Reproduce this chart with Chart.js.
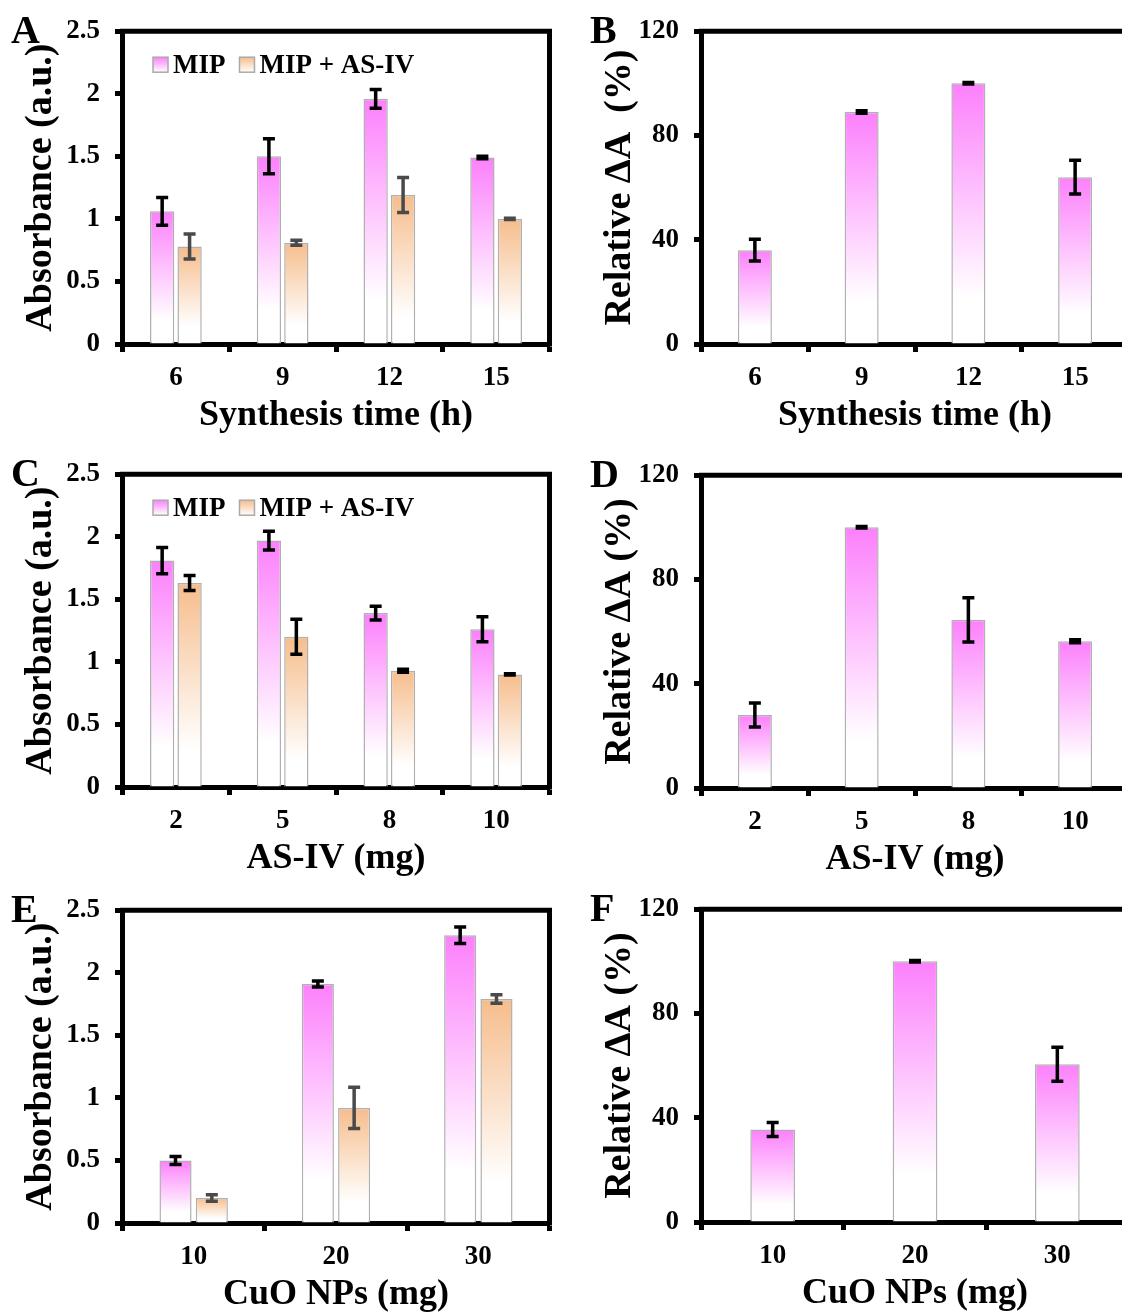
<!DOCTYPE html>
<html>
<head>
<meta charset="utf-8">
<script src="https://cdn.jsdelivr.net/npm/chart.js@4.4.0/dist/chart.umd.min.js"></script>
<style>
  html, body { margin: 0; padding: 0; background: #fff; overflow: hidden; width: 1122px; height: 1313px; }
  canvas { position: absolute; }
</style>
</head>
<body>
<canvas id="chartA" width="560" height="440" style="left:0px;top:0px"></canvas>
<canvas id="chartB" width="560" height="440" style="left:579px;top:0px"></canvas>
<canvas id="chartC" width="560" height="440" style="left:0px;top:443px"></canvas>
<canvas id="chartD" width="560" height="440" style="left:579px;top:444px"></canvas>
<canvas id="chartE" width="560" height="440" style="left:0px;top:879px"></canvas>
<canvas id="chartF" width="560" height="440" style="left:579px;top:878px"></canvas>
<script>
// synthesis time (A, B)
var timeLabels = ['6', '9', '12', '15'];
var timeMip = [1.06, 1.50, 1.96, 1.49];
var timeMipErr = [0.11, 0.14, 0.075, 0.01];
var timeMipAs = [0.78, 0.81, 1.19, 1.00];
var timeMipAsErr = [0.10, 0.02, 0.14, 0.005];
var timeRel = [36, 89, 100, 64];
var timeRelErr = [4.2, 0.5, 0.3, 6.5];

// AS-IV amount (C, D)
var asivLabels = ['2', '5', '8', '10'];
var asivMip = [1.81, 1.97, 1.39, 1.26];
var asivMipErr = [0.105, 0.075, 0.055, 0.10];
var asivMipAs = [1.63, 1.20, 0.93, 0.90];
var asivMipAsErr = [0.06, 0.14, 0.012, 0.005];
var asivRel = [28, 100, 64.5, 56.3];
var asivRelErr = [4.6, 0.3, 8.5, 0.6];

// CuO NPs amount (E, F)
var cuoLabels = ['10', '20', '30'];
var cuoMip = [0.50, 1.91, 2.30];
var cuoMipErr = [0.032, 0.024, 0.066];
var cuoMipAs = [0.20, 0.92, 1.79];
var cuoMipAsErr = [0.026, 0.164, 0.034];
var cuoRel = [35.5, 100, 60.5];
var cuoRelErr = [2.7, 0.3, 6.5];

var absTicks = [0, 0.5, 1, 1.5, 2, 2.5];
var relTicks = [0, 40, 80, 120];

var serif = '"Liberation Serif", "Times New Roman", serif';
var pink = '#fc80fc';
var orange = '#f6bd8c';

function barGradient(color) {
    return function(c) {
        var chart = c.chart;
        if (!chart.chartArea || c.raw == null) return color;
        var ys = chart.scales.y;
        var top = ys.getPixelForValue(c.raw), bot = ys.getPixelForValue(0);
        var g = chart.ctx.createLinearGradient(0, top, 0, bot);
        g.addColorStop(0, color);
        g.addColorStop(0.82, '#ffffff');
        g.addColorStop(1, '#ffffff');
        return g;
    };
}

// error bars, frame, panel letter and inner legend
var panelDeco = {
    id: 'panelDeco',
    afterDatasetsDraw: function(chart) {
        var ctx = chart.ctx, ys = chart.scales.y;
        chart.data.datasets.forEach(function(d, i) {
            var meta = chart.getDatasetMeta(i);
            ctx.save();
            ctx.strokeStyle = d.errColor;
            ctx.lineWidth = 3.5;
            meta.data.forEach(function(bar, j) {
                var hi = ys.getPixelForValue(d.data[j] + d.err[j]);
                var lo = ys.getPixelForValue(d.data[j] - d.err[j]);
                ctx.beginPath();
                ctx.moveTo(bar.x, hi); ctx.lineTo(bar.x, lo);
                ctx.moveTo(bar.x - 6, hi); ctx.lineTo(bar.x + 6, hi);
                ctx.moveTo(bar.x - 6, lo); ctx.lineTo(bar.x + 6, lo);
                ctx.stroke();
            });
            ctx.restore();
        });
    },
    afterDraw: function(chart, args, opts) {
        var ctx = chart.ctx, a = chart.chartArea;
        ctx.save();
        ctx.strokeStyle = '#000';
        ctx.lineWidth = 5;
        ctx.beginPath();
        ctx.moveTo(a.left - 2.5, a.top);
        ctx.lineTo(a.right, a.top);
        ctx.lineTo(a.right, a.bottom + 2.5);
        ctx.stroke();

        ctx.fillStyle = '#000';
        ctx.font = 'bold 40px ' + serif;
        ctx.textBaseline = 'alphabetic';
        ctx.textAlign = 'left';
        ctx.fillText(opts.letter, 11, 43);

        if (opts.legend) {
            var x = a.left + 30.5, y = a.top + 26, box = 15;
            ctx.font = 'bold 27px ' + serif;
            ctx.textBaseline = 'middle';
            chart.data.datasets.forEach(function(d) {
                var g = ctx.createLinearGradient(0, y, 0, y + box);
                g.addColorStop(0, d.topColor);
                g.addColorStop(1, '#ffffff');
                ctx.fillStyle = g;
                ctx.fillRect(x, y, box, box);
                ctx.strokeStyle = '#aaaaaa';
                ctx.lineWidth = 1.5;
                ctx.strokeRect(x, y, box, box);
                ctx.fillStyle = '#000';
                ctx.fillText(d.label, x + box + 5, y + box / 2 + 1);
                x += box + 5 + ctx.measureText(d.label).width + 14;
            });
        }
        ctx.restore();
    }
};

function makeDataset(label, data, err, color, errColor) {
    return {
        label: label,
        data: data,
        err: err,
        topColor: color,
        errColor: errColor,
        backgroundColor: barGradient(color),
        borderColor: '#b0b0b0',
        borderWidth: 1.5
    };
}

function makeChart(id, labels, datasets, ticks, yTitle, xTitle, letter, catPct, legend) {
    var tickFont = { family: serif, size: 27, weight: 'bold' };
    return new Chart(document.getElementById(id), {
        type: 'bar',
        data: { labels: labels, datasets: datasets },
        options: {
            responsive: false,
            animation: false,
            events: [],
            categoryPercentage: catPct,
            barPercentage: 0.885,
            layout: { padding: { left: 0, top: 26.5, right: 10.5, bottom: 0 } },
            plugins: {
                legend: { display: false },
                tooltip: { enabled: false },
                panelDeco: { letter: letter, legend: legend }
            },
            scales: {
                x: {
                    z: 1,
                    grid: { display: true, offset: true, drawOnChartArea: false, drawTicks: true,
                            tickLength: 8, tickWidth: 5, tickColor: '#000', color: '#000' },
                    border: { display: true, color: '#000', width: 5 },
                    ticks: { color: '#000', font: tickFont, padding: 10, maxRotation: 0, autoSkip: false },
                    title: { display: true, text: xTitle, color: '#000',
                             font: { family: serif, size: 36, weight: 'bold' }, padding: { top: 0, bottom: 3 } },
                    afterFit: function(s) { s.height = 96; }
                },
                y: {
                    z: 1,
                    min: ticks[0],
                    max: ticks[ticks.length - 1],
                    afterBuildTicks: function(s) { s.ticks = ticks.map(function(v) { return { value: v }; }); },
                    grid: { display: true, drawOnChartArea: false, drawTicks: true,
                            tickLength: 7.5, tickWidth: 5, tickColor: '#000', color: '#000' },
                    border: { display: true, color: '#000', width: 5 },
                    ticks: { color: '#000', font: tickFont, padding: 15, callback: function(v) { return String(v); } },
                    title: { display: true, text: yTitle, color: '#000',
                             font: { family: serif, size: 38, weight: 'bold' }, padding: { top: 18, bottom: 0 } },
                    afterFit: function(s) { s.width = 122.5; }
                }
            }
        },
        plugins: [panelDeco]
    });
}

var absTitle = 'Absorbance (a.u.)';
var relTitle = 'Relative \u0394A  (%)';

makeChart('chartA', timeLabels, [
    makeDataset('MIP', timeMip, timeMipErr, pink, '#000'),
    makeDataset('MIP + AS-IV', timeMipAs, timeMipAsErr, orange, '#4a4a4a')
], absTicks, absTitle, 'Synthesis time (h)', 'A', 0.514, true);

makeChart('chartB', timeLabels, [
    makeDataset('Relative', timeRel, timeRelErr, pink, '#000')
], relTicks, relTitle, 'Synthesis time (h)', 'B', 0.36, false);

makeChart('chartC', asivLabels, [
    makeDataset('MIP', asivMip, asivMipErr, pink, '#000'),
    makeDataset('MIP + AS-IV', asivMipAs, asivMipAsErr, orange, '#000')
], absTicks, absTitle, 'AS-IV (mg)', 'C', 0.514, true);

makeChart('chartD', asivLabels, [
    makeDataset('Relative', asivRel, asivRelErr, pink, '#000')
], relTicks, 'Relative \u0394A (%)', 'AS-IV (mg)', 'D', 0.36, false);

makeChart('chartE', cuoLabels, [
    makeDataset('MIP', cuoMip, cuoMipErr, pink, '#000'),
    makeDataset('MIP + AS-IV', cuoMipAs, cuoMipAsErr, orange, '#4a4a4a')
], absTicks, absTitle, 'CuO NPs (mg)', 'E', 0.51, false);

makeChart('chartF', cuoLabels, [
    makeDataset('Relative', cuoRel, cuoRelErr, pink, '#000')
], relTicks, 'Relative \u0394A (%)', 'CuO NPs (mg)', 'F', 0.355, false);
</script>
</body>
</html>
